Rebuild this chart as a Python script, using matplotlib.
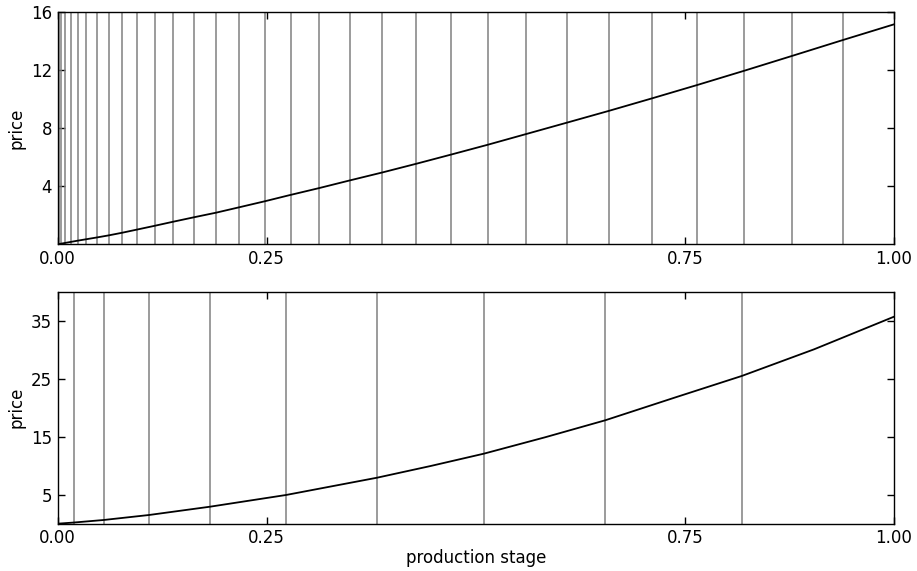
import matplotlib
matplotlib.use("Agg")
import matplotlib.pyplot as plt

# ---- data ----
# top panel: price curve
top_x = [0.0, 0.0241, 0.0469, 0.0607, 0.0775, 0.0954, 0.1157, 0.1377, 0.1628, 0.1895,
         0.217, 0.248, 0.276, 0.313, 0.3497, 0.388, 0.4286, 0.470, 0.514, 0.560,
         0.609, 0.659, 0.711, 0.765, 0.821, 0.878, 0.939, 1.0]
top_p = [0.0, 0.25, 0.47, 0.61, 0.80, 1.02, 1.27, 1.55, 1.86, 2.18,
         2.55, 2.97, 3.37, 3.88, 4.41, 4.95, 5.55, 6.18, 6.86, 7.60,
         8.39, 9.20, 10.07, 10.99, 11.97, 12.99, 14.09, 15.17]
# top panel: transaction stages
top_stages = [0.0014, 0.0044, 0.0092, 0.0158, 0.0241, 0.0344, 0.0469, 0.0610, 0.0775,
              0.0956, 0.1162, 0.1381, 0.1632, 0.1895, 0.2172, 0.2481, 0.2795, 0.3130,
              0.3500, 0.3879, 0.4286, 0.4701, 0.5143, 0.5604, 0.6087, 0.6589, 0.7107,
              0.7649, 0.8207, 0.8784, 0.9387]

# bottom panel: price curve
bot_x = [0.0, 0.0194, 0.0552, 0.1094, 0.1823, 0.2732, 0.3820, 0.4458, 0.5096, 0.5829,
         0.6548, 0.7389, 0.818, 0.9045, 1.0]
bot_p = [0.0, 0.2, 0.64, 1.5, 2.93, 4.95, 7.93, 9.94, 12.07, 14.9,
         17.83, 21.79, 25.47, 30.07, 35.69]
# bottom panel: transaction stages
bot_stages = [0.0194, 0.0552, 0.1094, 0.1823, 0.2732, 0.3820, 0.5095, 0.6545, 0.8187]

x_ticks = [0, 0.25, 0.75, 1.0]
x_ticklabels = ["0.00", "0.25", "0.75", "1.00"]
top_yticks = [4, 8, 12, 16]
bot_yticks = [5, 15, 25, 35]
top_ylim = (0, 16)
bot_ylim = (0, 40)

plt.rcParams['font.family'] = ['DejaVu Sans']
plt.rcParams['font.size'] = 12

fig = plt.figure(figsize=(9.17, 5.71), dpi=100)
W, H = 917, 571
left = 57.5 / W
width = (894 - 57.5) / W
ax_h = 232 / H
ax1 = fig.add_axes([left, (H - 244.3) / H, width, ax_h])
ax2 = fig.add_axes([left, (H - 523.7) / H, width, ax_h])

panels = [
    (ax1, top_x, top_p, top_stages, top_ylim, top_yticks),
    (ax2, bot_x, bot_p, bot_stages, bot_ylim, bot_yticks),
]
for ax, xs, ps, stages, ylim, yticks in panels:
    ax.vlines(stages, ylim[0], ylim[1], color='0.5', lw=1.1)
    ax.plot(xs, ps, color='black', lw=1.3)
    ax.set_xlim(0, 1)
    ax.set_ylim(*ylim)
    ax.set_xticks(x_ticks)
    ax.set_xticklabels(x_ticklabels)
    ax.set_yticks(yticks)
    ax.tick_params(direction='in', top=True, right=True, length=5, width=1,
                   labelsize=12, pad=4)
    for s in ax.spines.values():
        s.set_linewidth(1.0)
    ax.set_ylabel('price', fontsize=12)
    ax.yaxis.set_label_coords(-0.038, 0.5)

ax2.set_xlabel('production stage', fontsize=12)
ax2.xaxis.set_label_coords(0.5, -0.108)

fig.savefig('out.png', dpi=100, facecolor='white')
